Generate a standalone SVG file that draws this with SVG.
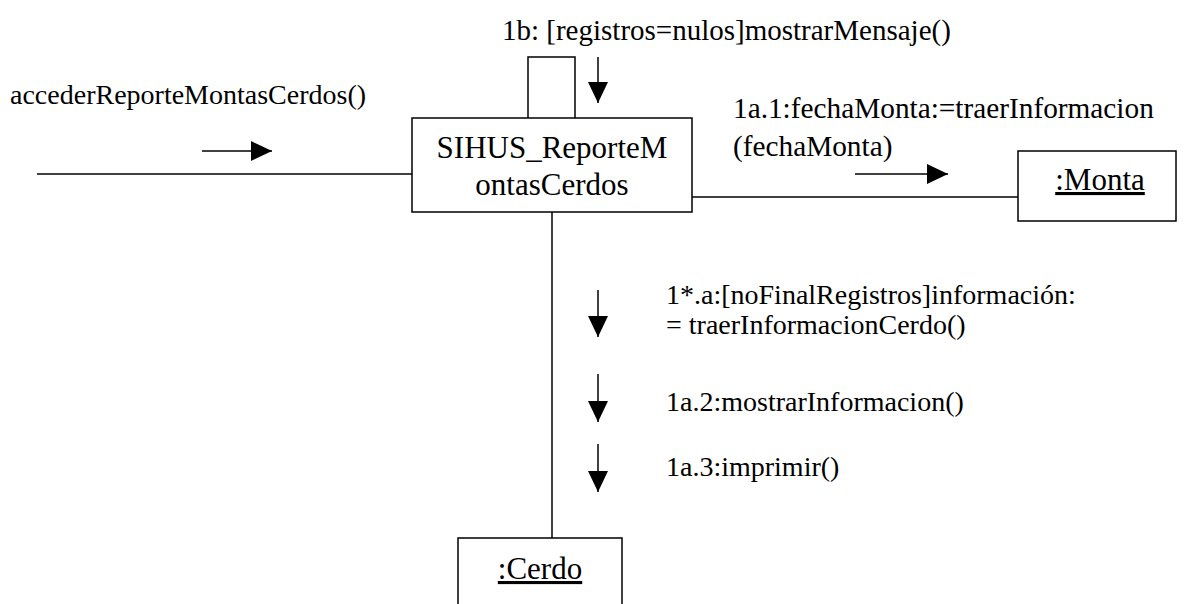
<svg xmlns="http://www.w3.org/2000/svg" width="1192" height="604" viewBox="0 0 1192 604">
<style>
text{font-family:'Liberation Serif','Times New Roman',serif;font-size:28px;fill:#000}
.nt{font-size:31px}
.box{fill:#fff;stroke:#000;stroke-width:1.5}
.ln{fill:none;stroke:#000;stroke-width:1.5}
.mid{text-anchor:middle}
</style>
<defs>
<marker id="ah" markerWidth="21" markerHeight="20" refX="21" refY="10" orient="auto" markerUnits="userSpaceOnUse">
<path d="M0,0 L21,10 L0,20 Z" fill="#000"/>
</marker>
</defs>
<g id="connectors">
<line class="ln" x1="37" y1="174" x2="412" y2="174"/>
<line class="ln" x1="692" y1="197" x2="1018" y2="197"/>
<line class="ln" x1="552" y1="212" x2="552" y2="538"/>
<polyline class="ln" points="528,118 528,57 575,57 575,118"/>
<line class="ln" x1="202" y1="151" x2="272" y2="151" marker-end="url(#ah)"/>
<line class="ln" x1="855" y1="174" x2="948" y2="174" marker-end="url(#ah)"/>
<line class="ln" x1="598" y1="57" x2="598" y2="103" marker-end="url(#ah)"/>
<line class="ln" x1="598" y1="290" x2="598" y2="337" marker-end="url(#ah)"/>
<line class="ln" x1="598" y1="374" x2="598" y2="422" marker-end="url(#ah)"/>
<line class="ln" x1="598" y1="444" x2="598" y2="492" marker-end="url(#ah)"/>
<text x="10" y="104">accederReporteMontasCerdos()</text>
<text x="502" y="40" style="font-size:29px">1b: [registros=nulos]mostrarMensaje()</text>
<text x="733" y="118" style="font-size:29.3px">1a.1:fechaMonta:=traerInformacion</text>
<text x="733" y="156" style="font-size:29.3px">(fechaMonta)</text>
<text x="666" y="304">1*.a:[noFinalRegistros]información:</text>
<text x="666" y="334">= traerInformacionCerdo()</text>
<text x="666" y="411">1a.2:mostrarInformacion()</text>
<text x="666" y="476">1a.3:imprimir()</text>
</g>
<g id="main">
<rect class="box" x="412" y="118" width="280" height="94"/>
<text class="mid nt" x="552" y="158">SIHUS_ReporteM</text>
<text class="mid nt" x="552" y="195">ontasCerdos</text>
</g>
<g id="monta">
<rect class="box" x="1018" y="151" width="158" height="70"/>
<text class="mid nt" x="1100" y="190" text-decoration="underline">:Monta</text>
</g>
<g id="cerdo">
<rect class="box" x="458" y="538" width="164" height="80"/>
<text class="mid nt" x="540" y="579" text-decoration="underline">:Cerdo</text>
</g>
</svg>
